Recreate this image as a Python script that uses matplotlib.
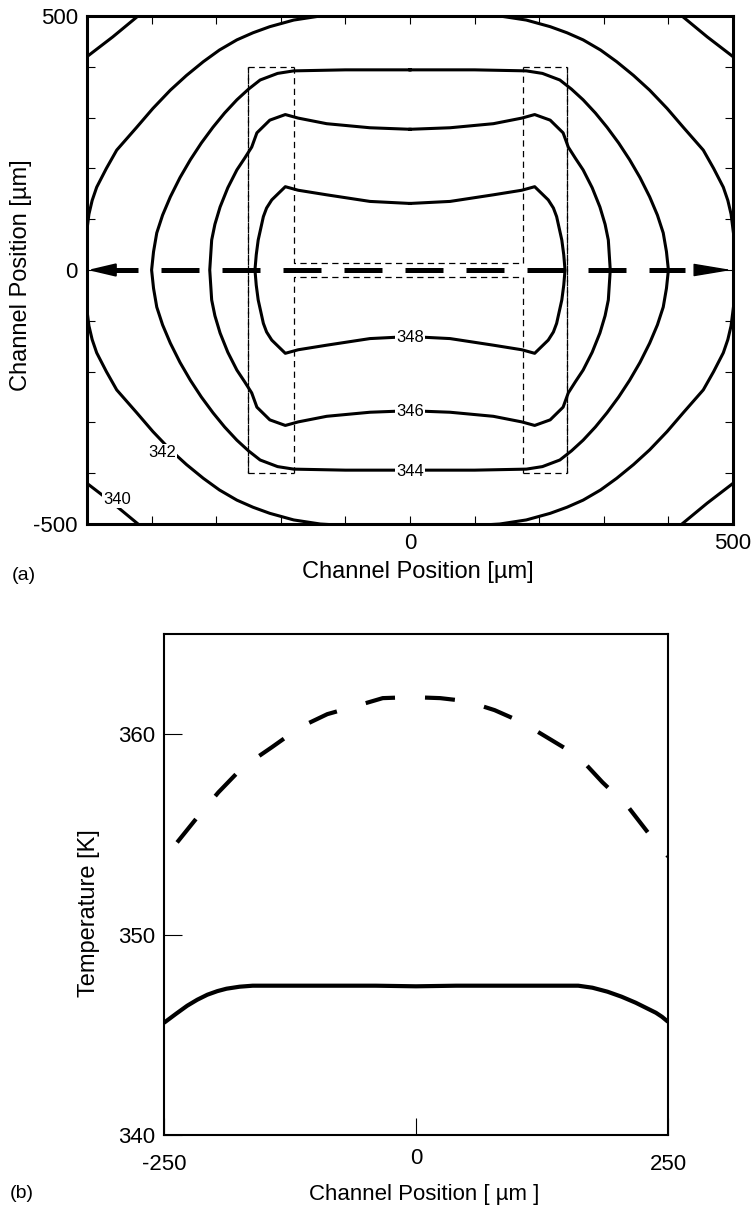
import matplotlib
matplotlib.use('Agg')
import matplotlib.pyplot as plt
import matplotlib.transforms as mtransforms
import numpy as np

plt.rcParams['font.family'] = ['Liberation Sans', 'DejaVu Sans']

# ---- panel (a): isotherms, quadrant I points (x from 0 out, y from top down to 0), in um
c342_x = [0, 100, 139, 180, 217, 243, 268, 295, 320, 346, 371, 398, 423, 454, 470, 485, 492, 497, 503, 505]
c342_y = [503, 503, 500, 492, 479, 467, 453, 433, 410, 383, 354, 318, 281, 236, 200, 163, 137, 110, 50, 0]
c344_x = [0, 100, 180, 205, 232, 250, 268, 287, 305, 323, 340, 356, 371, 383, 392, 397, 400]
c344_y = [394, 394, 392, 387, 374, 356, 335, 309, 281, 250, 217, 182, 144, 108, 73, 36, 0]
c346_x = [0, 62, 129, 173, 193, 217, 237, 245, 256, 268, 282, 294, 302, 307, 310]
c346_y = [277, 280, 288, 299, 306, 295, 270, 242, 220, 197, 162, 124, 90, 59, 0]
c348_x = [0, 62, 129, 173, 193, 214, 222, 227, 231, 235, 238, 240]
c348_y = [131, 135, 148, 157, 164, 138, 122, 105, 82, 59, 30, 0]
c340_x = [421, 460, 500]
c340_y = [500, 459, 420]

labels_a = ['340', '342', '344', '346', '348']
label_x = [-454, -384, 0, 0, 0]
label_y = [-451, -360, -397, -279, -132]

# channel outline (dashed)
chan_outer_x = [-251, 243]
chan_inner_x = [-180, 175]
chan_top = 400
chan_mid = 14

# ---- panel (b): temperature along the centreline
solid_x = [-250, -238, -227, -217, -207, -197, -188, -175, -162, -100, -40, 0,
           40, 100, 161, 175, 190, 204, 218, 228, 238, 244, 250]
solid_T = [345.6, 346.05, 346.45, 346.75, 347.0, 347.18, 347.3, 347.4, 347.45, 347.45,
           347.45, 347.42, 347.45, 347.45, 347.45, 347.35, 347.15, 346.9,
           346.6, 346.35, 346.1, 345.9, 345.65]
dash_x = [-237, -217, -196, -172, -143, -115, -88, -60, -33, -4, 24, 50, 78, 105,
          133, 161, 185, 210, 230, 250]
dash_T = [354.6, 355.85, 357.1, 358.35, 359.35, 360.35, 361.0, 361.4, 361.8, 361.85,
          361.8, 361.65, 361.2, 360.6, 359.75, 358.9, 357.6, 356.4, 355.1, 353.9]


def full_loop(qx, qy):
    qx = np.array(qx, float)
    qy = np.array(qy, float)
    x = np.concatenate([qx, qx[::-1], -qx, -qx[::-1]])
    y = np.concatenate([qy, -qy[::-1], -qy, qy[::-1]])
    return x, y


fig = plt.figure(figsize=(7.52, 12.06), dpi=100)
ax1 = fig.add_axes([87/752, 1-524/1206, 646/752, 508/1206])
ax2 = fig.add_axes([164/752, 1-1135/1206, 504/752, 501/1206])

#
# panel (a)
#
for qx, qy in [(c342_x, c342_y), (c344_x, c344_y), (c346_x, c346_y), (c348_x, c348_y)]:
    x, y = full_loop(qx, qy)
    ax1.plot(x, y, color='k', lw=2.2, zorder=3)
for sx in [1, -1]:
    for sy in [1, -1]:
        ax1.plot(sx*np.array(c340_x), sy*np.array(c340_y), color='k', lw=2.2, zorder=3)

for t, x, y in zip(labels_a, label_x, label_y):
    ax1.text(x, y, t, fontsize=12, ha='center', va='center', zorder=4,
             bbox=dict(facecolor='white', edgecolor='none', pad=1.0))

dkw = dict(color='k', lw=0.9, dashes=(5, 3.5), zorder=2)
xo_l, xo_r = chan_outer_x
xi_l, xi_r = chan_inner_x
for s in [1, -1]:
    ax1.plot([xo_l, xo_l], [s*chan_top, -s*chan_top], **dkw)
    ax1.plot([xo_r, xo_r], [s*chan_top, -s*chan_top], **dkw)
    ax1.plot([xo_l, xi_l], [s*chan_top, s*chan_top], **dkw)
    ax1.plot([xi_r, xo_r], [s*chan_top, s*chan_top], **dkw)
    ax1.plot([xi_l, xi_l, xi_r, xi_r], [s*chan_top, s*chan_mid, s*chan_mid, s*chan_top], **dkw)

# centreline arrow
ax1.plot([-480, 426], [0, 0], color='k', lw=3.6, dashes=(7.6, 4.6), zorder=3)
ax1.annotate('', xy=(-499, 0), xytext=(-470, 0), zorder=5,
             arrowprops=dict(arrowstyle='-|>,head_length=0.85,head_width=0.2',
                             color='k', lw=1.5, mutation_scale=20, shrinkA=0, shrinkB=0))
ax1.annotate('', xy=(498, 0), xytext=(460, 0), zorder=5,
             arrowprops=dict(arrowstyle='-|>,head_length=1.2,head_width=0.2',
                             color='k', lw=1, mutation_scale=20, shrinkA=0, shrinkB=0))

ax1.set_xlim(-500, 500)
ax1.set_ylim(-500, 500)
ticks = np.arange(-500, 501, 100)
ax1.set_xticks(ticks)
ax1.set_xticklabels(['0' if v == 0 else ('500' if v == 500 else '') for v in ticks])
ax1.set_yticks(ticks)
ax1.set_yticklabels([str(v) if v in (-500, 0, 500) else '' for v in ticks])
ax1.tick_params(direction='in', length=5.5, width=0.8, top=True, right=True,
                labelsize=16, pad=6.5)
for sp in ax1.spines.values():
    sp.set_linewidth(2.2)
ax1.set_xlabel('Channel Position [\u00b5m]', fontsize=17)
ax1.xaxis.set_label_coords(0.512, -0.072)
ax1.set_ylabel('Channel Position [\u00b5m]', fontsize=17)
ax1.yaxis.set_label_coords(-0.085, 0.49)
fig.text(12/752, 1-575/1206, '(a)', fontsize=14, va='center', ha='left')

#
# panel (b)
#
ax2.plot(solid_x, solid_T, color='k', lw=3.0, solid_capstyle='butt')
ax2.plot(dash_x, dash_T, color='k', lw=3.0, dashes=(7.2, 7.2))
ax2.set_xlim(-250, 250)
ax2.set_ylim(340, 365)
ax2.set_xticks([-250, 0, 250])
ax2.set_xticklabels(['-250', '0', '250'])
ax2.set_yticks([340, 350, 360])
ax2.tick_params(axis='x', direction='in', length=12.5, width=0.8, labelsize=16, pad=14)
ax2.tick_params(axis='y', direction='in', length=13, width=0.8, labelsize=16, pad=6.5)
for sp in ax2.spines.values():
    sp.set_linewidth(1.5)
# the middle label sits a little higher in the original
lab0 = ax2.get_xticklabels()[1]
lab0.set_transform(lab0.get_transform() +
                   mtransforms.ScaledTranslation(0, 5/72, fig.dpi_scale_trans))
ax2.set_xlabel('Channel Position [ \u00b5m ]', fontsize=16)
ax2.xaxis.set_label_coords(0.516, -0.098)
ax2.set_ylabel('Temperature [K]', fontsize=17)
ax2.yaxis.set_label_coords(-0.127, 0.443)
fig.text(10/752, 1-1194/1206, '(b)', fontsize=14, va='center', ha='left')

fig.savefig('out.png', dpi=100)
